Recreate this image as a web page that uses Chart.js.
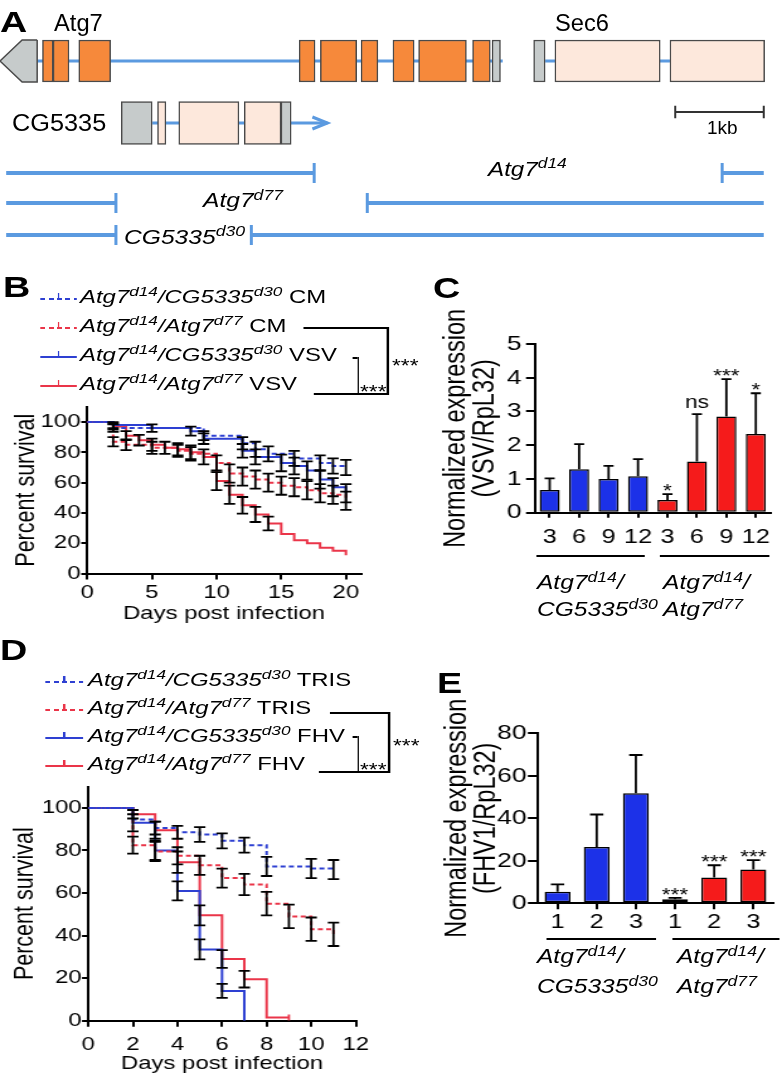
<!DOCTYPE html>
<html>
<head>
<meta charset="utf-8">
<script src="https://cdn.jsdelivr.net/npm/chart.js@4.4.1/dist/chart.umd.min.js"></script>
<style>
  html, body { margin:0; padding:0; background:#fff; }
  body { width:782px; height:1082px; position:relative; overflow:hidden; font-family:"Liberation Sans", Arial, Helvetica, sans-serif; color:#000; }
  .t { position:absolute; white-space:nowrap; line-height:1; transform-origin:0 0; }
  .t sup { font-size:0.72em; line-height:0; vertical-align:baseline; position:relative; top:-0.5em; }
  #wrap { position:absolute; left:0; top:0; width:621px; height:1082px; transform-origin:0 0; }
  canvas { position:absolute; }
</style>
</head>
<body>
<canvas id="cA"></canvas>
<div id="wrap">
  <canvas id="cB"></canvas>
  <canvas id="cC"></canvas>
  <canvas id="cD"></canvas>
  <canvas id="cE"></canvas>
</div>
<script>
// ================= DATA =================
// Panel A: gene models (positions in kb)
const aTrackY = { gene: 1, cg5335: 2, d14: 2.806, d77: 3.29, d30: 3.806, scale: 1.823 };
const aAtg7Exons = [[0.48,0.60],[0.60,0.78],[0.89,1.25],[3.38,3.56],[3.62,4.03],[4.08,4.27],[4.44,4.68],[4.73,5.27],[5.34,5.54]];
const aAtg7Utr = [[5.56,5.655]];
const aAtg7Arrow = [0.0, 0.25, 0.42];
const aSec6Utr = [[6.03,6.16]];
const aSec6Exons = [[6.27,7.46],[7.57,8.64]];
const aCgUtr = [[1.37,1.72],[3.175,3.29]];
const aCgExons = [[1.78,1.875],[2.02,2.70],[2.76,3.175]];
const aIntrons = [['gene',0.42,5.68],['gene',6.16,7.57],['cg5335',1.72,3.70]];
const aCgArrowTip = 3.70;
const aDeletions = { d14: [[0.07,3.55],[8.16,8.63]], d77: [[0.07,1.31],[4.15,8.63]], d30: [[0.07,1.31],[2.84,8.63]] };
const aBreakpoints = { d14: [3.55, 8.16], d77: [1.31, 4.15], d30: [1.31, 2.84] };
const aScaleBar = [7.63, 8.63];

// Panel B: survival (days, percent, SEM)
const bCMctrlDays = [0,2,9,12,13,14,16,18,19,20];
const bCMctrlSurv = [100,96,91,86,82,79,76,73,71,70];
const bCMctrlErr  = [0,2.5,3,4,5,5,5,5,5,5];
const bCMmutDays  = [0,2,3,5,7,8,10,11,12,13,14,15,16,17,18,19,20];
const bCMmutSurv  = [100,87,85,83,81,79,73,66,64,62,60,58,57,55,53,52,48];
const bCMmutErr   = [0,3,3.5,4,4,4.5,5,6,6,6,6,6,6,6,6,6,6];
const bVSVctrlDays = [0,2,5,8,9,12,13,15,16,17,18,19,20];
const bVSVctrlSurv = [100,98,96,94,89,81,77,73,71,68,62,57,53];
const bVSVctrlErr  = [0,2,2.5,3,3.5,4.5,5,5.5,5.5,6,6,6,6];
const bVSVmutDays  = [0,2,3,4,5,6,7,8,9,10,11,12,13,14,15,16,17,18,19,20];
const bVSVmutSurv  = [100,97,91,88,85,83,82,80,77,61,52,45,39,33,26,22,20,17,15,12];
const bVSVmutErr   = [0,2,3,3.5,4,4,4,4.5,5,6,6,5.5,5,4.5,0,0,0,0,0,0];

// Panel C: VSV expression
const cLabels = ['3','6','9','12','3','6','9','12'];
const cValues = [0.67,1.29,1.00,1.08,0.38,1.52,2.85,2.33];
const cErrors = [0.35,0.74,0.39,0.51,0.17,1.40,1.11,1.21];
const cSig    = ['','','','','*','ns','***','*'];
const cGroup  = [0,0,0,0,1,1,1,1];

// Panel D: survival
const dTRISctrlDays = [0,2,3,4,5,6,7,8,10,11];
const dTRISctrlSurv = [100,94.5,90.5,88.5,87.5,84.5,82.5,72.5,71.5,71];
const dTRISctrlErr  = [0,0,3,3,3.5,3.5,3.5,4.5,4.5,4.5];
const dTRISmutDays  = [0,2,3,4,5,6,7,8,9,10,11];
const dTRISmutSurv  = [100,82.5,79.5,77.5,73,67,64,55,49,43,40.6];
const dTRISmutErr   = [0,4,4.5,4,4.5,4.5,5,5.5,5.5,5.5,5.5];
const dFHVctrlDays  = [0,2,3,4,5,6,7];
const dFHVctrlSurv  = [100,93,80,61,33.5,14,0];
const dFHVctrlErr   = [0,4,4.5,4.5,4.7,3.3,0];
const dFHVmutDays   = [0,2,3,4,5,6,7,8,9];
const dFHVmutSurv   = [100,97,89.5,74.5,49.5,29,19.5,1.5,1.5];
const dFHVmutErr    = [0,2,4,5,4.7,4.2,3.9,0,0];

// Panel E: FHV expression
const eLabels = ['1','2','3','1','2','3'];
const eValues = [5.4,26.5,51.8,1.9,12.2,15.9];
const eErrors = [3.5,15.3,18.0,0.7,5.7,4.4];
const eSig    = ['','','','***','***','***'];
const eGroup  = [0,0,0,1,1,1];

// Legends / labels text
const bLegend = [
  '<i>Atg7<sup>d14</sup>/CG5335<sup>d30</sup></i> CM',
  '<i>Atg7<sup>d14</sup>/Atg7<sup>d77</sup></i> CM',
  '<i>Atg7<sup>d14</sup>/CG5335<sup>d30</sup></i> VSV',
  '<i>Atg7<sup>d14</sup>/Atg7<sup>d77</sup></i> VSV'];
const dLegend = [
  '<i>Atg7<sup>d14</sup>/CG5335<sup>d30</sup></i> TRIS',
  '<i>Atg7<sup>d14</sup>/Atg7<sup>d77</sup></i> TRIS',
  '<i>Atg7<sup>d14</sup>/CG5335<sup>d30</sup></i> FHV',
  '<i>Atg7<sup>d14</sup>/Atg7<sup>d77</sup></i> FHV'];
const groupLabels = [['<i>Atg7<sup>d14</sup>/</i>','<i>CG5335<sup>d30</sup></i>'],['<i>Atg7<sup>d14</sup>/</i>','<i>Atg7<sup>d77</sup></i>']];

// ================= STYLE =================
const S = 782 / 621;
const BLUE = '#2e40d2', RED = '#ea3549';
const BAR_BLUE = '#1c31e8', BAR_RED = '#f51b1b';
const ORANGE = '#f6893b', PEACH = '#fde8dc', GRAY = '#c6cbcb', EDGE = '#4a4a4a', GENE_LINE = '#5b9ae0';
Chart.defaults.font.family = '"Liberation Sans", Arial, Helvetica, sans-serif';
Chart.defaults.color = '#000';

const wrap = document.getElementById('wrap');
wrap.style.transform = `scaleX(${S})`;

function place(c, left, top, w, h) {
  c.width = w; c.height = h;
  c.style.left = left + 'px'; c.style.top = top + 'px';
}
function txt(parent, html, left, baseline, size, o = {}) {
  const d = document.createElement('div');
  d.className = 't';
  d.innerHTML = html;
  d.style.left = left + 'px';
  d.style.top = (baseline - 0.8465 * size) + 'px';
  d.style.fontSize = size + 'px';
  if (o.bold) d.style.fontWeight = 'bold';
  if (o.italic) d.style.fontStyle = 'italic';
  if (o.sx) d.style.transform = `scaleX(${o.sx})`;
  parent.appendChild(d);
  return d;
}
function box(parent, left, top, w, h, bg) {
  const d = document.createElement('div');
  d.style.cssText = `position:absolute;left:${left}px;top:${top}px;width:${w}px;height:${h}px;background:${bg};`;
  parent.appendChild(d);
  return d;
}

// error bar + significance plugin
const errPlugin = {
  id: 'errPlugin',
  afterDatasetsDraw(chart) {
    const ctx = chart.ctx;
    chart.data.datasets.forEach((ds, i) => {
      if (!ds.errors && !ds.sig) return;
      const meta = chart.getDatasetMeta(i);
      const ys = chart.scales[meta.yAxisID];
      ctx.save();
      ctx.strokeStyle = '#000'; ctx.fillStyle = '#000';
      ctx.setLineDash([]);
      ctx.lineWidth = ds.errLineWidth || 1.8;
      meta.data.forEach((el, j) => {
        const raw = ds.data[j];
        const v = (raw !== null && typeof raw === 'object') ? raw.y : raw;
        const e = ds.errors ? ds.errors[j] : 0;
        const cap = ds.errCap || 4;
        const x = el.x;
        let topV = v;
        if (e > 0) {
          const yTop = ys.getPixelForValue(v + e);
          const yBot = ys.getPixelForValue(ds.errUpOnly ? v : v - e);
          ctx.beginPath();
          ctx.moveTo(x, yBot); ctx.lineTo(x, yTop);
          ctx.moveTo(x - cap, yTop); ctx.lineTo(x + cap, yTop);
          if (!ds.errUpOnly) { ctx.moveTo(x - cap, yBot); ctx.lineTo(x + cap, yBot); }
          ctx.stroke();
          topV = v + e;
        }
        const s = ds.sig && ds.sig[j];
        if (s) {
          const yTop = ys.getPixelForValue(topV);
          ctx.font = '18px "Liberation Sans", Arial, sans-serif';
          ctx.textAlign = 'center'; ctx.textBaseline = 'alphabetic';
          const off = s.indexOf('*') >= 0 ? 3 : -6.3;
          ctx.fillText(s, x, yTop + off);
        }
      });
      ctx.restore();
    });
  }
};

// ================= PANEL A =================
(function () {
  const c = document.getElementById('cA');
  place(c, 0, 0, 782, 250);
  const ds = [];
  const lineDS = (pts, color, width, order = 3) => ({
    type: 'line', data: pts.map(([x, y]) => ({ x, y })), borderColor: color, borderWidth: width,
    pointRadius: 0, fill: false, tension: 0, order, borderCapStyle: 'butt'
  });
  const exonDS = (ranges, row, color, thick) => ({
    type: 'bar', indexAxis: 'y', data: ranges.map(r => ({ x: r, y: aTrackY[row] })),
    backgroundColor: color, borderColor: EDGE, borderWidth: 1.5, borderSkipped: false,
    barThickness: thick, grouped: false, order: 0
  });
  aIntrons.forEach(([row, a, b]) => ds.push(lineDS([[a, aTrackY[row]], [b, aTrackY[row]]], GENE_LINE, 3)));
  const yc = aTrackY.cg5335;
  ds.push(lineDS([[aCgArrowTip - 0.17, yc - 0.097], [aCgArrowTip, yc], [aCgArrowTip - 0.17, yc + 0.097]], GENE_LINE, 3));
  Object.keys(aDeletions).forEach(k => {
    aDeletions[k].forEach(([a, b]) => ds.push(lineDS([[a, aTrackY[k]], [b, aTrackY[k]]], GENE_LINE, 4)));
    aBreakpoints[k].forEach(x => ds.push(lineDS([[x, aTrackY[k] - 0.16], [x, aTrackY[k] + 0.16]], GENE_LINE, 3)));
  });
  ds.push(lineDS([[aScaleBar[0], aTrackY.scale], [aScaleBar[1], aTrackY.scale]], '#333', 2));
  aScaleBar.forEach(x => ds.push(lineDS([[x, aTrackY.scale - 0.1], [x, aTrackY.scale + 0.1]], '#333', 2)));
  const [tip, sh, en] = aAtg7Arrow, yg = aTrackY.gene, hh = 0.339;
  ds.push({ type: 'line', data: [{x:en,y:yg-hh},{x:sh,y:yg-hh},{x:tip,y:yg},{x:sh,y:yg+hh},{x:en,y:yg+hh},{x:en,y:yg-hh}],
    borderColor: EDGE, borderWidth: 1.5, backgroundColor: GRAY, fill: 'shape', pointRadius: 0, tension: 0, order: 1 });
  ds.push(exonDS(aAtg7Exons, 'gene', ORANGE, 42));
  ds.push(exonDS(aAtg7Utr, 'gene', GRAY, 42));
  ds.push(exonDS(aSec6Utr, 'gene', GRAY, 42));
  ds.push(exonDS(aSec6Exons, 'gene', PEACH, 42));
  ds.push(exonDS(aCgUtr, 'cg5335', GRAY, 43));
  ds.push(exonDS(aCgExons, 'cg5335', PEACH, 43));
  new Chart(c, {
    type: 'bar',
    data: { datasets: ds },
    options: {
      responsive: false, animation: false, devicePixelRatio: 1, events: [],
      layout: { padding: 0 },
      plugins: { legend: { display: false }, tooltip: { enabled: false } },
      scales: {
        x: { type: 'linear', min: 0, max: 782 / 88.5, display: false, offset: false },
        y: { type: 'linear', reverse: true, min: 0.0161, max: 0.0161 + 250 / 62, display: false, offset: false }
      }
    }
  });
  const body = document.body;
  txt(body, 'A', 0, 33, 29, { bold: true, sx: 1.3 });
  txt(body, 'Atg7', 54, 31, 23, { sx: 1.03 });
  txt(body, 'Sec6', 555, 31.5, 23, { sx: 1.03 });
  txt(body, 'CG5335', 12, 131, 23, { sx: 1.1 });
  txt(body, '1kb', 707, 134, 19, { sx: 1.0 });
  txt(body, '<i>Atg7<sup>d14</sup></i>', 487.5, 176, 20.5, { sx: 1.18 });
  txt(body, '<i>Atg7<sup>d77</sup></i>', 202.5, 207.5, 20.5, { sx: 1.2 });
  txt(body, '<i>CG5335<sup>d30</sup></i>', 124, 244, 20.5, { sx: 1.2 });
})();

// ================= SURVIVAL CHARTS =================
function survDS(days, surv, err, color, dashed, endTick) {
  return {
    type: 'line', data: days.map((d, i) => ({ x: d, y: surv[i] })), errors: err, errCap: 4.5,
    borderColor: color, borderWidth: 2, borderDash: dashed ? [4, 2.6] : [], stepped: true,
    pointRadius: days.map((d, i) => (endTick && i === days.length - 1) ? 3 : 0),
    pointStyle: 'line', rotation: 90, pointBorderColor: color, pointBorderWidth: 1.8,
    fill: false, tension: 0
  };
}
function survivalChart(id, L, datasets) {
  const c = document.getElementById(id);
  place(c, L.left, L.top, L.w, L.h);
  return new Chart(c, {
    type: 'line',
    data: { datasets },
    options: {
      responsive: false, animation: false, devicePixelRatio: 1, events: [],
      layout: { padding: { left: 0, top: L.padTop, right: L.padRight, bottom: 0 } },
      plugins: { legend: { display: false }, tooltip: { enabled: false } },
      scales: {
        x: {
          type: 'linear', min: 0, max: L.xMax,
          ticks: { stepSize: L.xStep, includeBounds: false, font: { size: 19 }, color: '#000', padding: L.xTickPad, maxRotation: 0, autoSkip: false },
          grid: { display: true, drawOnChartArea: false, drawTicks: true, tickLength: 6, color: '#000', lineWidth: 2 },
          border: { display: true, color: '#000', width: 2 },
          title: { display: true, text: 'Days post infection', font: { size: 19 }, color: '#000', padding: { top: 0, bottom: L.xTitlePad } },
          afterFit: s => { s.height = L.xHeight; }
        },
        y: {
          type: 'linear', min: 0, max: 110,
          ticks: { stepSize: 20, includeBounds: false, font: { size: 19 }, color: '#000', padding: L.yTickPad },
          grid: { display: true, drawOnChartArea: false, drawTicks: true, tickLength: L.yTickLen, color: '#000', lineWidth: 2 },
          border: { display: true, color: '#000', width: 2 },
          title: { display: true, text: 'Percent survival', font: { size: 21.5 }, color: '#000', padding: { top: L.yTitlePad, bottom: 0 } },
          afterFit: s => { s.width = L.yWidth; }
        }
      }
    },
    plugins: [errPlugin]
  });
}
const LB = { left:0, top:395, w:300, h:240, padTop:9.7, padRight:13.5, yWidth:69.3, xHeight:61.5, xMax:21.15, xStep:5, xTickPad:2, xTitlePad:9.6, yTickPad:0.5, yTickLen:4.8, yTitlePad:7.7 };
const LD = { left:0, top:775, w:300, h:307, padTop:9.2, padRight:15.5, yWidth:70.1, xHeight:61.3, xMax:12, xStep:2, xTickPad:6.9, xTitlePad:6.6, yTickPad:0.2, yTickLen:5, yTitlePad:7.0 };

survivalChart('cB', LB, [
  survDS(bCMctrlDays, bCMctrlSurv, bCMctrlErr, BLUE, true),
  survDS(bCMmutDays, bCMmutSurv, bCMmutErr, RED, true),
  survDS(bVSVctrlDays, bVSVctrlSurv, bVSVctrlErr, BLUE, false),
  survDS(bVSVmutDays, bVSVmutSurv, bVSVmutErr, RED, false)
]);
survivalChart('cD', LD, [
  survDS(dTRISctrlDays, dTRISctrlSurv, dTRISctrlErr, BLUE, true),
  survDS(dTRISmutDays, dTRISmutSurv, dTRISmutErr, RED, true),
  survDS(dFHVctrlDays, dFHVctrlSurv, dFHVctrlErr, BLUE, false),
  survDS(dFHVmutDays, dFHVmutSurv, dFHVmutErr, RED, false, true)
]);

// ================= BAR CHARTS =================
function barChart(id, L, labels, values, errors, sig, groups) {
  const c = document.getElementById(id);
  place(c, L.left, L.top, L.w, L.h);
  return new Chart(c, {
    type: 'bar',
    data: { labels, datasets: [{
      data: values, backgroundColor: groups.map(g => g ? BAR_RED : BAR_BLUE), borderColor: '#000',
      borderWidth: 1.5, borderSkipped: false, barPercentage: L.barPct, categoryPercentage: 1,
      errors, sig, errUpOnly: true, errCap: L.cap, errLineWidth: 1.8
    }] },
    options: {
      responsive: false, animation: false, devicePixelRatio: 1, events: [],
      layout: { padding: { left: 0, top: L.padTop, right: L.padRight, bottom: 0 } },
      plugins: { legend: { display: false }, tooltip: { enabled: false } },
      scales: {
        x: {
          type: 'category', offset: true,
          grid: { display: true, offset: false, drawOnChartArea: false, drawTicks: true, tickLength: L.xTickLen, color: '#000', lineWidth: 2 },
          border: { display: true, color: '#000', width: 2 },
          ticks: { font: { size: L.xFont }, color: '#000', padding: L.xTickPad, maxRotation: 0, autoSkip: false },
          afterFit: s => { s.height = L.xHeight; }
        },
        y: {
          type: 'linear', min: 0, max: L.yMax,
          ticks: { stepSize: L.yStep, includeBounds: false, font: { size: L.yFont }, color: '#000', padding: L.yTickPad },
          grid: { display: true, drawOnChartArea: false, drawTicks: true, tickLength: L.yTickLen, color: '#000', lineWidth: 2 },
          border: { display: true, color: '#000', width: 2 },
          title: { display: true, text: L.title, font: { size: 23.5, lineHeight: 1.01 }, color: '#000', padding: { top: L.yTitlePad, bottom: 0 } },
          afterFit: s => { s.width = L.yWidth; }
        }
      }
    },
    plugins: [errPlugin]
  });
}
const LC = { left:330, top:300, w:290, h:270, padTop:44, padRight:8.1, yWidth:94.8, xHeight:57.3, yMax:5, yStep:1, yTickLen:7.1, yTickPad:3.4, xTickLen:5, xTickPad:7.3, yTitlePad:20.2, barPct:0.68, cap:4, yFont:21, xFont:20, title:['Normalized expression','(VSV/RpL32)'] };
const LE = { left:330, top:690, w:290, h:270, padTop:43.3, padRight:6.2, yWidth:97.2, xHeight:56.7, yMax:80, yStep:20, yTickLen:8, yTickPad:1, xTickLen:6, xTickPad:0.7, yTitlePad:21.4, barPct:0.66, cap:5.3, yFont:21, xFont:20, title:['Normalized expression','(FHV1/RpL32)'] };
barChart('cC', LC, cLabels, cValues, cErrors, cSig, cGroup);
barChart('cE', LE, eLabels, eValues, eErrors, eSig, eGroup);

// ================= HTML ANNOTATIONS (design coords) =================
function legend(rows, x1, x2, tx, baselines, colors, dashed) {
  rows.forEach((html, i) => {
    const ly = baselines[i] - 4;
    const line = box(wrap, x1, ly - 1, x2 - x1, 2, colors[i]);
    if (dashed[i]) line.style.background = `repeating-linear-gradient(90deg, ${colors[i]} 0 4px, transparent 4px 6.6px)`;
    box(wrap, (x1 + x2) / 2 - 0.8, ly - 6, 1.6, 6, colors[i]);
    txt(wrap, html, tx, baselines[i], 19);
  });
}
const legColors = [BLUE, RED, BLUE, RED], legDash = [true, true, false, false];
legend(bLegend, 31.8, 61.1, 63.5, [303, 332, 361, 390], legColors, legDash);
legend(dLegend, 35.7, 65.9, 69.9, [686, 714, 742, 770], legColors, legDash);

function bracket(xStartTop, xEnd, yTop, xStartBot, yBot, xInnerStart, xInnerEnd, yInner, outerStarX, outerStarBase, innerStarX, innerStarBase) {
  box(wrap, xStartTop, yTop - 1, xEnd - xStartTop, 2, '#000');
  box(wrap, xEnd - 0.8, yTop - 1, 1.6, yBot - yTop + 2, '#000');
  box(wrap, xStartBot, yBot - 1, xEnd - xStartBot, 2, '#000');
  box(wrap, xInnerStart, yInner - 1, xInnerEnd - xInnerStart, 2, '#000');
  box(wrap, xInnerEnd - 0.8, yInner - 1, 1.6, yBot - yInner + 2, '#000');
  txt(wrap, '***', outerStarX, outerStarBase, 18);
  txt(wrap, '***', innerStarX, innerStarBase, 18);
}
bracket(240.6, 308.1, 328, 248.6, 394, 279.5, 284.3, 358, 311.3, 372.4, 285.9, 398);
bracket(262.0, 308.9, 713, 252.5, 772, 279.5, 284.3, 737, 312.1, 752.4, 285.9, 776.4);

// panel letters
txt(wrap, 'B', 2.4, 297, 30, { bold: true });
txt(wrap, 'C', 343.8, 298, 30, { bold: true });
txt(wrap, 'D', 0, 660, 30, { bold: true });
txt(wrap, 'E', 347, 693, 30, { bold: true });

// group lines and labels
box(wrap, 426.4, 555, 85.8, 2, '#000');
box(wrap, 524.1, 555, 87.3, 2, '#000');
txt(wrap, groupLabels[0][0], 426.4, 590, 19.5);
txt(wrap, groupLabels[0][1], 426.4, 617, 19.5);
txt(wrap, groupLabels[1][0], 526.5, 590, 19.5);
txt(wrap, groupLabels[1][1], 526.5, 617, 19.5);
box(wrap, 434.4, 938, 86.5, 2, '#000');
box(wrap, 533.6, 938, 85.8, 2, '#000');
txt(wrap, groupLabels[0][0], 426.4, 964, 19.5);
txt(wrap, groupLabels[0][1], 426.4, 994, 19.5);
txt(wrap, groupLabels[1][0], 537.6, 964, 19.5);
txt(wrap, groupLabels[1][1], 537.6, 994, 19.5);
</script>
</body>
</html>
